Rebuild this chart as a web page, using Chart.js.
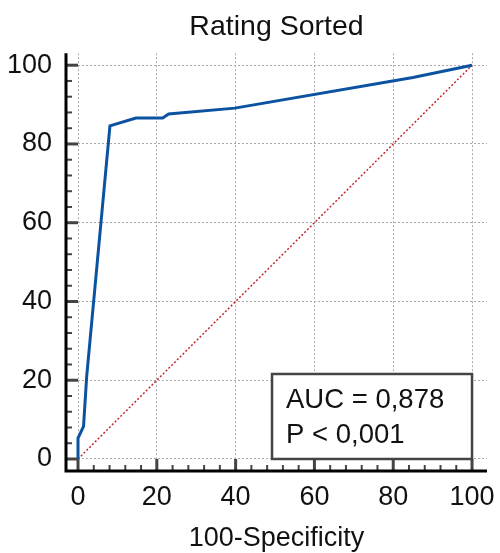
<!DOCTYPE html>
<html>
<head>
<meta charset="utf-8">
<title>Rating Sorted</title>
<script src="https://cdn.jsdelivr.net/npm/chart.js@4/dist/chart.umd.min.js"></script>
<style>
  html, body { margin: 0; padding: 0; background: #fff; }
  #wrap { width: 500px; height: 553px; }
</style>
</head>
<body>
<div id="wrap"><canvas id="rocChart" width="500" height="553"></canvas></div>
<script>
// ROC curve points (100-Specificity vs Sensitivity)
const fprValues = [0, 0, 1.4, 2.2, 8.1, 14.7, 21.5, 23, 39.8, 85, 100];
const tprValues = [0, 5.3, 8.3, 21, 84.6, 86.6, 86.6, 87.6, 89.1, 96.9, 100];
// reference diagonal
const diagX = [0, 100];
const diagY = [0, 100];
// axis ticks
const majorTicks = [0, 20, 40, 60, 80, 100];
const minorStep = 4;
const statLines = ['AUC = 0,878', 'P < 0,001'];

const FONT = "'Liberation Sans', Arial, sans-serif";

function toPoints(xs, ys) {
  return xs.map(function (x, i) { return { x: x, y: ys[i] }; });
}

// axis lines, inward ticks and the stats box
const axisPlugin = {
  id: 'axisPlugin',
  afterDraw: function (chart) {
    const ctx = chart.ctx;
    const area = chart.chartArea;
    const xs = chart.scales.x;
    const ys = chart.scales.y;
    ctx.save();

    // minor + major ticks
    for (let v = 0; v <= 100; v += minorStep) {
      const major = majorTicks.includes(v);
      const len = major ? 12 : 6;
      ctx.strokeStyle = '#444';
      ctx.lineWidth = major ? 3 : 2;
      const px = xs.getPixelForValue(v);
      ctx.beginPath();
      ctx.moveTo(px, area.bottom);
      ctx.lineTo(px, area.bottom - len);
      ctx.stroke();
      const py = ys.getPixelForValue(v);
      ctx.beginPath();
      ctx.moveTo(area.left, py);
      ctx.lineTo(area.left + len, py);
      ctx.stroke();
    }

    // axis lines
    ctx.strokeStyle = '#000';
    ctx.lineWidth = 3;
    ctx.beginPath();
    ctx.moveTo(area.left, area.top);
    ctx.lineTo(area.left, area.bottom);
    ctx.lineTo(area.right, area.bottom);
    ctx.stroke();

    // stats box, anchored to the (100, 0) corner
    const right = xs.getPixelForValue(100);
    const bottom = ys.getPixelForValue(0);
    const w = 200, h = 85;
    ctx.fillStyle = '#fff';
    ctx.fillRect(right - w, bottom - h, w, h);
    ctx.strokeStyle = '#444';
    ctx.lineWidth = 2.5;
    ctx.strokeRect(right - w, bottom - h, w, h);
    ctx.fillStyle = '#111';
    ctx.font = '27.5px ' + FONT;
    ctx.textBaseline = 'alphabetic';
    ctx.textAlign = 'left';
    ctx.fillText(statLines[0], right - w + 14, bottom - h + 34);
    ctx.fillText(statLines[1], right - w + 14, bottom - h + 69);

    ctx.restore();
  }
};

const ctx = document.getElementById('rocChart').getContext('2d');

const rocChart = new Chart(ctx, {
  type: 'scatter',
  data: {
    datasets: [
      {
        label: 'Reference',
        data: toPoints(diagX, diagY),
        showLine: true,
        borderColor: '#c0282d',
        borderWidth: 1.5,
        borderDash: [2, 2],
        pointRadius: 0,
        order: 2
      },
      {
        label: 'Rating Sorted',
        data: toPoints(fprValues, tprValues),
        showLine: true,
        borderColor: '#0b52a0',
        borderWidth: 3,
        pointRadius: 0,
        tension: 0,
        order: 1
      }
    ]
  },
  options: {
    responsive: false,
    animation: false,
    layout: { padding: { top: 1, right: 13, left: 0, bottom: 0 } },
    plugins: {
      legend: { display: false },
      tooltip: { enabled: false },
      title: {
        display: true,
        text: 'Rating Sorted',
        fullSize: false,
        color: '#111',
        font: { family: FONT, size: 28.5, weight: 'normal', lineHeight: 1.2 },
        padding: { top: 9, bottom: 9 }
      }
    },
    scales: {
      x: {
        type: 'linear',
        min: -3.05,
        max: 103.8,
        afterBuildTicks: function (scale) {
          scale.ticks = majorTicks.map(function (v) { return { value: v }; });
        },
        afterFit: function (scale) {
          scale.height = 82;
          scale.paddingLeft = 0;
          scale.paddingRight = 0;
        },
        ticks: {
          color: '#111',
          padding: 10,
          maxRotation: 0,
          autoSkip: false,
          font: { family: FONT, size: 27 }
        },
        grid: { color: '#aaa', lineWidth: 1, drawTicks: false },
        border: { display: false, dash: [2, 2] },
        title: {
          display: true,
          text: '100-Specificity',
          color: '#111',
          font: { family: FONT, size: 27, lineHeight: 1.0 },
          padding: { top: 4, bottom: 1 }
        }
      },
      y: {
        type: 'linear',
        min: -3.05,
        max: 103.05,
        afterBuildTicks: function (scale) {
          scale.ticks = majorTicks.map(function (v) { return { value: v }; });
        },
        afterFit: function (scale) {
          scale.width = 66;
          scale.paddingTop = 0;
          scale.paddingBottom = 0;
        },
        ticks: {
          color: '#111',
          padding: 14,
          autoSkip: false,
          font: { family: FONT, size: 27 }
        },
        grid: { color: '#aaa', lineWidth: 1, drawTicks: false },
        border: { display: false, dash: [2, 2] }
      }
    }
  },
  plugins: [axisPlugin]
});
</script>
</body>
</html>
